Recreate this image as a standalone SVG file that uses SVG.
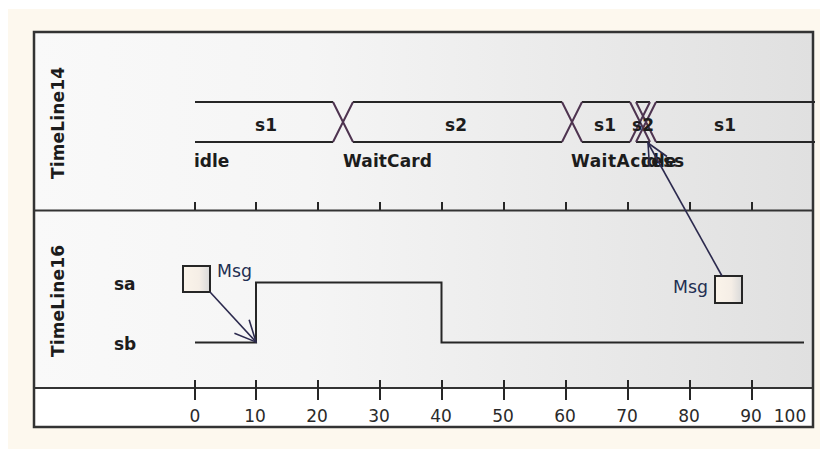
<svg xmlns="http://www.w3.org/2000/svg" width="821" height="450" viewBox="0 0 821 450">
  <style>
    .lbl { font-family: "DejaVu Sans", Verdana, sans-serif; font-weight: bold; font-size: 17px; fill: #1c1c1c; }
    .num { font-family: "DejaVu Sans", Verdana, sans-serif; font-size: 17px; fill: #2a2a2a; text-anchor: middle; }
    .msg { font-family: "DejaVu Sans", Verdana, sans-serif; font-size: 17px; fill: #1f2f52; }
    .state { fill: none; stroke: #262626; stroke-width: 2; }
    .xing { fill: none; stroke: #4e3350; stroke-width: 2; }
    .tick { stroke: #262626; stroke-width: 2; }
    .frame { fill: none; stroke: #333333; stroke-width: 2.5; }
    .sep { stroke: #333333; stroke-width: 2; }
    .box { fill: url(#boxg); stroke: #262626; stroke-width: 2; }
    .conn { fill: none; stroke: #2c2a4e; stroke-width: 1.6; }
  </style>
  <defs>
    <linearGradient id="bg" x1="0" y1="0" x2="1" y2="0">
      <stop offset="0" stop-color="#f9f9f9"/>
      <stop offset="0.35" stop-color="#f5f5f5"/>
      <stop offset="1" stop-color="#e0e0e0"/>
    </linearGradient>
    <linearGradient id="boxg" x1="0" y1="0" x2="1" y2="0">
      <stop offset="0" stop-color="#fbf4ea"/>
      <stop offset="0.6" stop-color="#f5eee6"/>
      <stop offset="1" stop-color="#d9d9d9"/>
    </linearGradient>
    <marker id="arr" markerUnits="userSpaceOnUse" markerWidth="30" markerHeight="30" viewBox="-25 -15 30 30" refX="0" refY="0" orient="auto" overflow="visible">
      <path d="M-21,-10 L0,0 L-21,10" fill="none" stroke="#2c2a4e" stroke-width="1.6"/>
    </marker>
  </defs>

  <rect x="0" y="0" width="821" height="450" fill="#ffffff"/>
  <rect x="8" y="9" width="812" height="440" fill="#fdf8ee"/>

  <g id="frame">
    <rect x="34" y="32" width="779" height="356" fill="url(#bg)"/>
    <rect x="34" y="388" width="779" height="39" fill="#ffffff"/>
    <line class="sep" x1="34" y1="210.5" x2="813" y2="210.5"/>
    <line class="sep" x1="34" y1="388" x2="813" y2="388"/>
    <rect class="frame" x="34" y="32" width="779" height="395"/>
  </g>

  <g id="timeline14">
    <text class="lbl" transform="translate(64,123) rotate(-90)" text-anchor="middle" textLength="112" lengthAdjust="spacing">TimeLine14</text>
    <path class="state" d="M195,102 H333 M195,142 H333 M353,102 H562 M353,142 H562 M582,102 H630 M582,142 H630 M636,102 H650 M636,142 H650 M656,102 H815 M656,142 H815"/>
    <path class="xing" d="M333,102 L353,142 M333,142 L353,102 M562,102 L582,142 M562,142 L582,102 M630,102 L650,142 M630,142 L650,102 M636,102 L656,142 M636,142 L656,102"/>
    <text class="lbl" x="266" y="131" text-anchor="middle">s1</text>
    <text class="lbl" x="456" y="131" text-anchor="middle">s2</text>
    <text class="lbl" x="605" y="131" text-anchor="middle">s1</text>
    <text class="lbl" x="643" y="131" text-anchor="middle">s2</text>
    <text class="lbl" x="725" y="131" text-anchor="middle">s1</text>
    <text class="lbl" x="194" y="167">idle</text>
    <text class="lbl" x="343" y="167" textLength="89" lengthAdjust="spacing">WaitCard</text>
    <text class="lbl" x="571" y="167" textLength="113" lengthAdjust="spacing">WaitAccess</text>
    <text class="lbl" x="641" y="167">idle</text>
    <path class="tick" d="M195,202 V210 M256,202 V210 M318,202 V210 M380,202 V210 M442,202 V210 M504,202 V210 M566,202 V210 M628,202 V210 M690,202 V210 M752,202 V210"/>
  </g>

  <g id="timeline16">
    <text class="lbl" transform="translate(64,301) rotate(-90)" text-anchor="middle" textLength="112" lengthAdjust="spacing">TimeLine16</text>
    <text class="lbl" x="114" y="290">sa</text>
    <text class="lbl" x="114" y="350">sb</text>
    <polyline class="state" points="195,342.5 256,342.5 256,282.5 441.5,282.5 441.5,342.5 804,342.5"/>
  </g>

  <g id="msg1">
    <rect class="box" x="183" y="266" width="27" height="26"/>
    <text class="msg" x="217" y="277" textLength="35" lengthAdjust="spacingAndGlyphs">Msg</text>
  </g>

  <g id="msg2">
    <rect class="box" x="715" y="276" width="27" height="27"/>
    <text class="msg" x="673" y="293" textLength="35" lengthAdjust="spacingAndGlyphs">Msg</text>
  </g>

  <g id="axis">
    <path class="tick" d="M195,380 V400 M256,380 V400 M318,380 V400 M380,380 V400 M442,380 V400 M504,380 V400 M566,380 V400 M628,380 V400 M690,380 V400 M752,380 V400"/>
    <text class="num" x="195" y="422">0</text>
    <text class="num" x="255" y="422">10</text>
    <text class="num" x="317" y="422">20</text>
    <text class="num" x="379" y="422">30</text>
    <text class="num" x="441" y="422">40</text>
    <text class="num" x="503" y="422">50</text>
    <text class="num" x="565" y="422">60</text>
    <text class="num" x="627" y="422">70</text>
    <text class="num" x="689" y="422">80</text>
    <text class="num" x="751" y="422">90</text>
    <text class="num" x="790" y="422">100</text>
  </g>

  <g id="connectors">
    <line class="conn" x1="210" y1="292" x2="256" y2="342" marker-end="url(#arr)"/>
    <line class="conn" x1="722" y1="276" x2="648" y2="143" marker-end="url(#arr)"/>
  </g>
</svg>
